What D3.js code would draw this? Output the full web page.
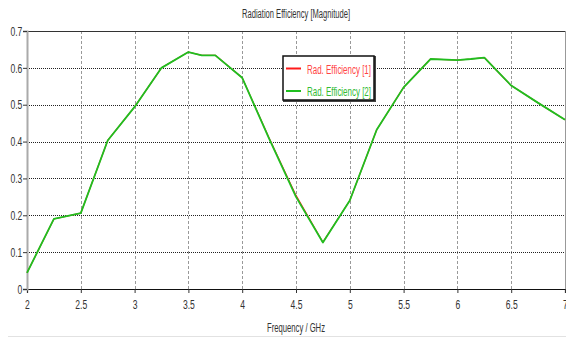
<!DOCTYPE html>
<html>
<head>
<meta charset="utf-8">
<script src="https://cdn.jsdelivr.net/npm/d3@7/dist/d3.min.js"></script>
<style>
  html, body { margin: 0; padding: 0; background: #fff; }
  svg { display: block; }
  text { font-family: "Liberation Sans", "DejaVu Sans", sans-serif; fill: #333; }
</style>
</head>
<body>
<svg id="chart" width="566" height="338"></svg>
<script>
// Frequency samples (GHz) and radiation efficiency for both ports
const freq = [2, 2.25, 2.5, 2.75, 3, 3.25, 3.5, 3.625, 3.75, 4, 4.25, 4.5, 4.75, 5, 5.25, 5.5, 5.75, 6, 6.125, 6.25, 6.5, 6.75, 7];
const eff1 = [0.044, 0.19, 0.206, 0.403, 0.494, 0.600, 0.643, 0.634, 0.634, 0.573, 0.410, 0.254, 0.127, 0.240, 0.432, 0.547, 0.624, 0.621, 0.624, 0.628, 0.552, 0.505, 0.459];
const eff2 = [0.044, 0.19, 0.206, 0.403, 0.494, 0.600, 0.643, 0.634, 0.634, 0.573, 0.408, 0.250, 0.126, 0.240, 0.432, 0.547, 0.624, 0.621, 0.624, 0.628, 0.552, 0.505, 0.459];
const seriesNames = ["Rad. Efficiency [1]", "Rad. Efficiency [2]"];
const seriesColors = ["#ff1a1a", "#1fbf1f"];
const seriesWidths = [1.2, 1.8];
const xTicks = [2, 2.5, 3, 3.5, 4, 4.5, 5, 5.5, 6, 6.5, 7];
const yTicks = [0, 0.1, 0.2, 0.3, 0.4, 0.5, 0.6, 0.7];
const titleText = "Radiation Efficiency [Magnitude]";
const xLabelText = "Frequency / GHz";

const svg = d3.select("#chart");
const plot = { left: 27, right: 565, top: 31, bottom: 289 };
const narrow = 0.66;

const x = d3.scaleLinear().domain([2, 7]).range([plot.left, plot.right]);
const y = d3.scaleLinear().domain([0, 0.7]).range([plot.bottom, plot.top]);

// faint frame line along the bottom of the window
svg.append("line").attr("x1", 8).attr("x2", 566).attr("y1", 336.5).attr("y2", 336.5)
  .attr("stroke", "#e2e2e2").attr("stroke-width", 1);

// grid: vertical gray dashes, horizontal dark dots
svg.append("g").selectAll("line").data(xTicks.filter(d => d > 2 && d < 7)).join("line")
  .attr("x1", d => Math.round(x(d)) + 0.5).attr("x2", d => Math.round(x(d)) + 0.5)
  .attr("y1", plot.top).attr("y2", plot.bottom)
  .attr("stroke", "#999").attr("stroke-dasharray", "3,2");
svg.append("g").selectAll("line").data(yTicks.filter(d => d > 0 && d < 0.7)).join("line")
  .attr("x1", plot.left).attr("x2", plot.right)
  .attr("y1", d => Math.round(y(d)) + 0.5).attr("y2", d => Math.round(y(d)) + 0.5)
  .attr("stroke", "#222").attr("stroke-dasharray", "1,1");

// frame: dark top, gray right and left
svg.append("line").attr("x1", plot.left).attr("x2", plot.right + 1)
  .attr("y1", plot.top + 0.5).attr("y2", plot.top + 0.5).attr("stroke", "#333");
svg.append("line").attr("x1", plot.right + 0.5).attr("x2", plot.right + 0.5)
  .attr("y1", plot.top).attr("y2", plot.bottom).attr("stroke", "#999");

// axes
const xAxis = d3.axisBottom(x).tickValues(xTicks).tickFormat(d3.format("")).tickSize(4).tickPadding(7);
const yAxis = d3.axisLeft(y).tickValues(yTicks).tickFormat(d3.format("")).tickSize(4).tickPadding(3);

const gx = svg.append("g").attr("transform", `translate(0,${plot.bottom})`).call(xAxis);
gx.select(".domain").attr("stroke", "#111").attr("stroke-width", 1.2);
gx.selectAll(".tick line").attr("stroke", "#333");
gx.selectAll(".tick text").attr("font-size", 13).attr("fill", "#333")
  .attr("transform", `scale(${narrow},1)`);

const gy = svg.append("g").attr("transform", `translate(${plot.left},0)`).call(yAxis);
gy.select(".domain").attr("stroke", "#aaa").attr("stroke-width", 2);
gy.selectAll(".tick line").attr("stroke", "#333");
gy.selectAll(".tick text").attr("font-size", 13).attr("fill", "#333")
  .attr("transform", `scale(${narrow},1)`);

// series lines
const line = d3.line().x((d, i) => x(freq[i])).y(d => y(d));
[eff1, eff2].forEach((vals, k) => {
  svg.append("path").datum(vals).attr("d", line)
    .attr("fill", "none").attr("stroke", seriesColors[k]).attr("stroke-width", seriesWidths[k])
    .attr("stroke-linejoin", "round");
});

// title and axis label
svg.append("text").attr("x", 296).attr("y", 18).attr("text-anchor", "middle")
  .attr("font-size", 12).attr("textLength", 108).attr("lengthAdjust", "spacingAndGlyphs")
  .text(titleText);
svg.append("text").attr("x", 296).attr("y", 332).attr("text-anchor", "middle")
  .attr("font-size", 12).attr("textLength", 58).attr("lengthAdjust", "spacingAndGlyphs")
  .text(xLabelText);

// legend
const lg = svg.append("g").attr("transform", "translate(282,55)");
lg.append("rect").attr("x", 1).attr("y", 1).attr("width", 93).attr("height", 46).attr("fill", "#444");
lg.append("rect").attr("x", 1).attr("y", 1).attr("width", 91).attr("height", 44)
  .attr("fill", "#fff").attr("stroke", "#111").attr("stroke-width", 1.5);
seriesNames.forEach((name, k) => {
  const yy = 13.5 + k * 22.5;
  lg.append("line").attr("x1", 4).attr("x2", 19).attr("y1", yy).attr("y2", yy)
    .attr("stroke", seriesColors[k]).attr("stroke-width", 2);
  lg.append("text").attr("x", 25).attr("y", yy + 5).attr("font-size", 13.5)
    .attr("textLength", 64).attr("lengthAdjust", "spacingAndGlyphs")
    .style("fill", k === 0 ? "#ff4444" : "#33bb33").text(name);
});
</script>
</body>
</html>
